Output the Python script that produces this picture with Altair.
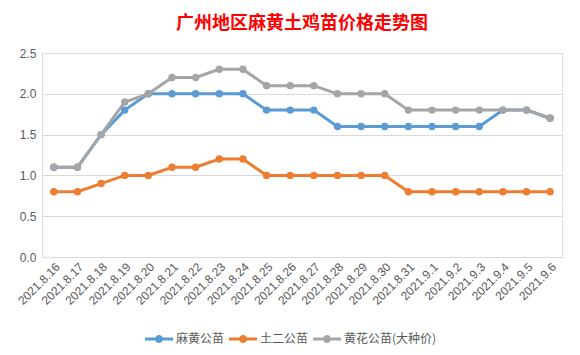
import altair as alt
import pandas as pd

dates = ["2021.8.16", "2021.8.17", "2021.8.18", "2021.8.19", "2021.8.20", "2021.8.21",
         "2021.8.22", "2021.8.23", "2021.8.24", "2021.8.25", "2021.8.26", "2021.8.27",
         "2021.8.28", "2021.8.29", "2021.8.30", "2021.8.31", "2021.9.1", "2021.9.2",
         "2021.9.3", "2021.9.4", "2021.9.5", "2021.9.6"]
mahuang = [1.1, 1.1, 1.5, 1.8, 2.0, 2.0, 2.0, 2.0, 2.0, 1.8, 1.8, 1.8,
           1.6, 1.6, 1.6, 1.6, 1.6, 1.6, 1.6, 1.8, 1.8, 1.7]
tuer = [0.8, 0.8, 0.9, 1.0, 1.0, 1.1, 1.1, 1.2, 1.2, 1.0, 1.0, 1.0,
        1.0, 1.0, 1.0, 0.8, 0.8, 0.8, 0.8, 0.8, 0.8, 0.8]
huanghua = [1.1, 1.1, 1.5, 1.9, 2.0, 2.2, 2.2, 2.3, 2.3, 2.1, 2.1, 2.1,
            2.0, 2.0, 2.0, 1.8, 1.8, 1.8, 1.8, 1.8, 1.8, 1.7]
series = ["麻黄公苗", "土二公苗", "黄花公苗(大种价)"]
colors = ["#5B9BD5", "#ED7D31", "#A5A5A5"]

rows = []
for si, (name, vals) in enumerate(zip(series, [mahuang, tuer, huanghua])):
    for d, v in zip(dates, vals):
        rows.append({"date": d, "price": v, "series": name, "order": si})
df = pd.DataFrame(rows)

line_dot = ("M-1,-0.11 L1,-0.11 L1,0.11 L-1,0.11 Z "
            "M0.29,0 A0.29,0.29 0 1,1 -0.29,0 A0.29,0.29 0 1,1 0.29,0 Z")

chart = alt.Chart(df).mark_line(
    strokeWidth=3,
    point=alt.OverlayMarkDef(filled=True, size=55, opacity=1)
).encode(
    x=alt.X("date:N", sort=dates, title=None,
            axis=alt.Axis(labelAngle=-45, labelFontSize=12, labelColor="#595959",
                          labelFont="Liberation Sans", ticks=False, domain=False,
                          labelPadding=4, labelOverlap=False)),
    y=alt.Y("price:Q", title=None,
            scale=alt.Scale(domain=[0, 2.5], nice=False),
            axis=alt.Axis(values=[0, 0.5, 1.0, 1.5, 2.0, 2.5], format=".1f",
                          labelFontSize=12, labelColor="#595959", labelFont="Liberation Sans",
                          ticks=False, domain=False, gridColor="#D9D9D9", labelPadding=6)),
    color=alt.Color("series:N", sort=series,
                    scale=alt.Scale(domain=series, range=colors),
                    legend=alt.Legend(title=None, orient="none", direction="horizontal",
                                      legendX=103, legendY=272, symbolType=line_dot,
                                      symbolStrokeWidth=0,
                                      labelFontSize=12, labelColor="#595959",
                                      labelFont="Noto Sans CJK SC", symbolSize=784,
                                      columnPadding=4, labelOffset=3)),
    order=alt.Order("order:Q"),
).properties(
    width=520, height=204,
    title=alt.TitleParams("广州地区麻黄土鸡苗价格走势图", color="#FF0000", fontSize=18,
                          font="Noto Sans CJK SC", fontWeight="bold", anchor="middle",
                          offset=14),
    autosize=alt.AutoSizeParams(type="none"),
    padding={"left": 42, "top": 53, "right": 18, "bottom": 98},
).configure_view(stroke=None).configure(background="white")

chart.save("out.html", embed_options={"renderer": "svg", "actions": False})
